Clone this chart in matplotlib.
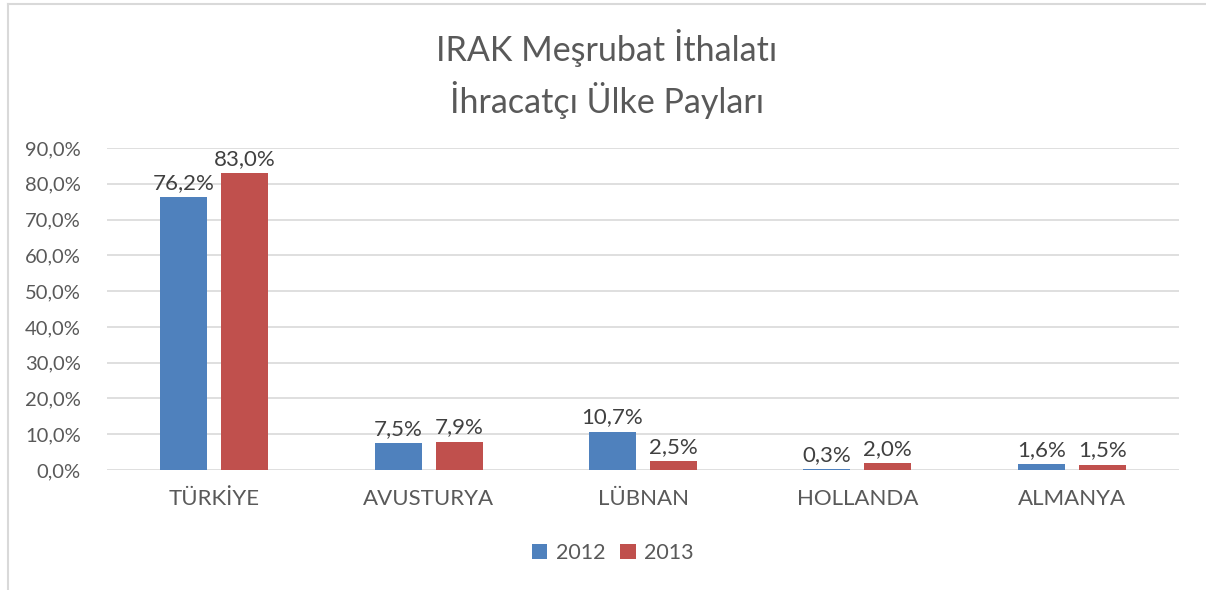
import numpy as np
import matplotlib.pyplot as plt
from matplotlib.lines import Line2D

ulkeler = ["TÜRKİYE", "AVUSTURYA", "LÜBNAN", "HOLLANDA", "ALMANYA"]
pay_2012 = [76.2, 7.5, 10.7, 0.3, 1.6]
pay_2013 = [83.0, 7.9, 2.5, 2.0, 1.5]
yillar = ["2012", "2013"]
yticks = [0, 10, 20, 30, 40, 50, 60, 70, 80, 90]

mavi = "#4f81bd"
kirmizi = "#c0504d"
gri = "#595959"

plt.rcParams['font.family'] = ['Lato', 'DejaVu Sans']

fig = plt.figure(figsize=(12.06, 5.90), dpi=100)
ax = fig.add_axes([107/1206, 1 - 470/590, (1179-107)/1206, (470-148)/590])

x = np.arange(len(ulkeler))
w = 0.219
off = 0.142
b1 = ax.bar(x - off, pay_2012, w, color=mavi, label=yillar[0], zorder=3)
b2 = ax.bar(x + off, pay_2013, w, color=kirmizi, label=yillar[1], zorder=3)

def etiket(v):
    return ("%.1f%%" % v).replace(".", ",")

for bars, vals in ((b1, pay_2012), (b2, pay_2013)):
    for b, v in zip(bars, vals):
        ax.annotate(etiket(v), (b.get_x() + b.get_width()/2, v),
                    xytext=(0, 3), textcoords="offset points",
                    ha="center", va="bottom", fontsize=16, color="#404040")

ax.set_xlim(-0.5, len(ulkeler) - 0.5)
ax.set_ylim(0, 90)
ax.set_yticks(yticks)
ax.set_yticklabels([etiket(t) for t in yticks], fontsize=14.5, color=gri)
ax.set_xticks(x)
ax.set_xticklabels(ulkeler, fontsize=16, color=gri)
ax.tick_params(length=0, pad=14)
ax.tick_params(axis="y", pad=19)
ax.grid(axis="y", color="#d9d9d9", linewidth=1.2, zorder=0)
for s in ax.spines.values():
    s.set_visible(False)

fig.text(607/1206, 1 - 48/590, "IRAK Meşrubat İthalatı", ha="center", va="center",
         fontsize=24.5, color=gri)
fig.text(607/1206, 1 - 100/590, "İhracatçı Ülke Payları", ha="center", va="center",
         fontsize=24.5, color=gri)

fig.legend(handles=[b1, b2], labels=yillar, loc="center",
           bbox_to_anchor=(613/1206, 1 - 553/590), ncol=2, frameon=False,
           fontsize=15.5, handlelength=0.7, handleheight=0.7, columnspacing=0.7,
           handletextpad=0.4, labelcolor=gri)

fig.add_artist(Line2D([8/1206, 1], [1 - 4/590, 1 - 4/590], color="#d9d9d9", linewidth=1.5,
                      transform=fig.transFigure))
fig.add_artist(Line2D([8/1206, 8/1206], [0, 1 - 4/590], color="#d9d9d9", linewidth=1.5,
                      transform=fig.transFigure))

fig.savefig("out.png", dpi=100)
